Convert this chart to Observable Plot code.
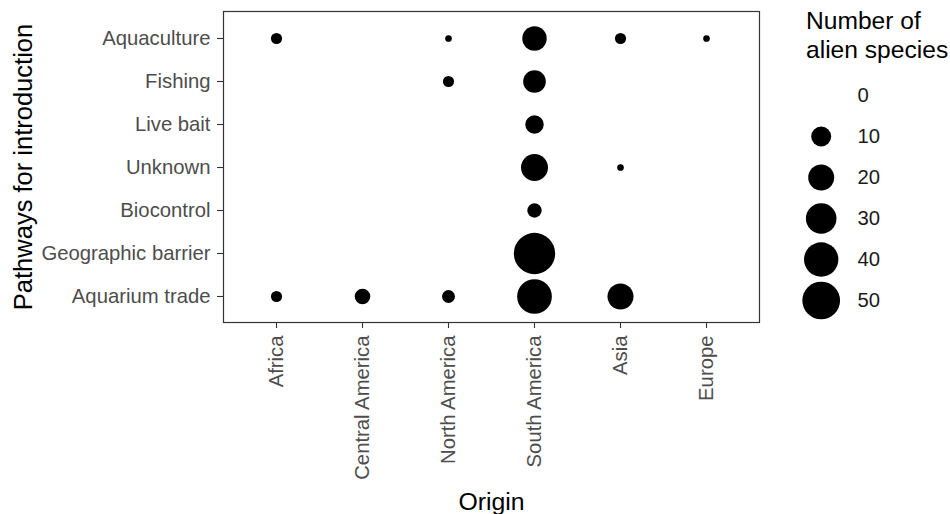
<!DOCTYPE html>
<html>
<head>
<meta charset="utf-8">
<script src="https://cdn.jsdelivr.net/npm/d3@7"></script>
<script src="https://cdn.jsdelivr.net/npm/@observablehq/plot@0.6"></script>
<style>
  body { margin: 0; background: #fff; font-family: "Liberation Sans", Arial, sans-serif; }
  #wrap { position: relative; width: 950px; height: 514px; overflow: hidden; }
  #main { position: absolute; left: 0; top: 0; }
  #ltitle { position: absolute; left: 806px; top: 7px; font-size: 24.6px; line-height: 28.5px; color: #000; white-space: nowrap; }
  #lkeys { position: absolute; left: 806px; top: 75px; }
</style>
</head>
<body>
<div id="wrap">
  <div id="main"></div>
  <div id="ltitle">Number of<br>alien species</div>
  <div id="lkeys"></div>
</div>
<script>
// Categories
const origins = ["Africa", "Central America", "North America", "South America", "Asia", "Europe"];
const pathways = ["Aquaculture", "Fishing", "Live bait", "Unknown", "Biocontrol", "Geographic barrier", "Aquarium trade"];

// Number of alien species per pathway, in the order of `origins` (0 = none)
const aquaculture       = [2, 0, 1, 17, 2, 1];
const fishing           = [0, 0, 2, 14, 0, 0];
const liveBait          = [0, 0, 0, 8, 0, 0];
const unknown           = [0, 0, 0, 22, 1, 0];
const biocontrol        = [0, 0, 0, 4, 0, 0];
const geographicBarrier = [0, 0, 0, 62, 0, 0];
const aquariumTrade     = [2, 5, 3, 41, 20, 0];

// Legend breaks
const legendBreaks = [0, 10, 20, 30, 40, 50];

const series = [aquaculture, fishing, liveBait, unknown, biocontrol, geographicBarrier, aquariumTrade];
const records = [];
pathways.forEach((p, i) => {
  origins.forEach((o, j) => {
    const n = series[i][j];
    if (n > 0) records.push({pathway: p, origin: o, n});
  });
});

const font = "'Liberation Sans', Arial, sans-serif";
// size scale: area from the data minimum (1) to the maximum
const rScale = {type: "sqrt", domain: [0, 61], range: [3.35, 20.65]};

const main = Plot.plot({
  width: 800,
  height: 514,
  marginLeft: 223,
  marginRight: 41,
  marginTop: 11,
  marginBottom: 192,
  style: {fontFamily: font, background: "transparent", overflow: "visible"},
  x: {type: "point", domain: origins, padding: 0.6, axis: null},
  y: {type: "point", domain: pathways, padding: 0.6, axis: null},
  r: rScale,
  marks: [
    Plot.axisX({tickRotate: -90, tickSize: 6, tickPadding: 7, fontSize: 20.3, stroke: "#333", fill: "#4d4d4d", strokeWidth: 1.1, label: null}),
    Plot.axisY({tickSize: 6, tickPadding: 7, fontSize: 20.3, stroke: "#333", fill: "#4d4d4d", strokeWidth: 1.1, label: null}),
    Plot.dot(records, {x: "origin", y: "pathway", r: d => d.n - 1, fill: "black", stroke: "none"}),
    Plot.frame({stroke: "#333", strokeWidth: 1.2}),
    Plot.text(["Origin"], {frameAnchor: "bottom", dy: 180, textAnchor: "middle", lineAnchor: "middle", fontSize: 24.8, fill: "#000"}),
    Plot.text(["Pathways for introduction"], {frameAnchor: "left", dx: -200, rotate: -90, textAnchor: "middle", lineAnchor: "middle", fontSize: 25.5, fill: "#000"})
  ]
});
document.getElementById("main").appendChild(main);

const legend = Plot.plot({
  width: 144,
  height: 245,
  marginTop: 20,
  marginBottom: 20,
  marginLeft: 0,
  marginRight: 0,
  style: {fontFamily: font, background: "transparent", overflow: "visible"},
  y: {type: "point", domain: legendBreaks, padding: 0, axis: null},
  r: rScale,
  marks: [
    Plot.dot(legendBreaks.filter(v => v > 0), {y: v => v, r: v => v - 1, frameAnchor: "left", dx: 14.7, fill: "black", stroke: "none"}),
    Plot.text(legendBreaks, {y: v => v, text: v => String(v), frameAnchor: "left", dx: 51, textAnchor: "start", lineAnchor: "middle", fontSize: 20.3, fill: "#1a1a1a"})
  ]
});
document.getElementById("lkeys").appendChild(legend);
</script>
</body>
</html>
